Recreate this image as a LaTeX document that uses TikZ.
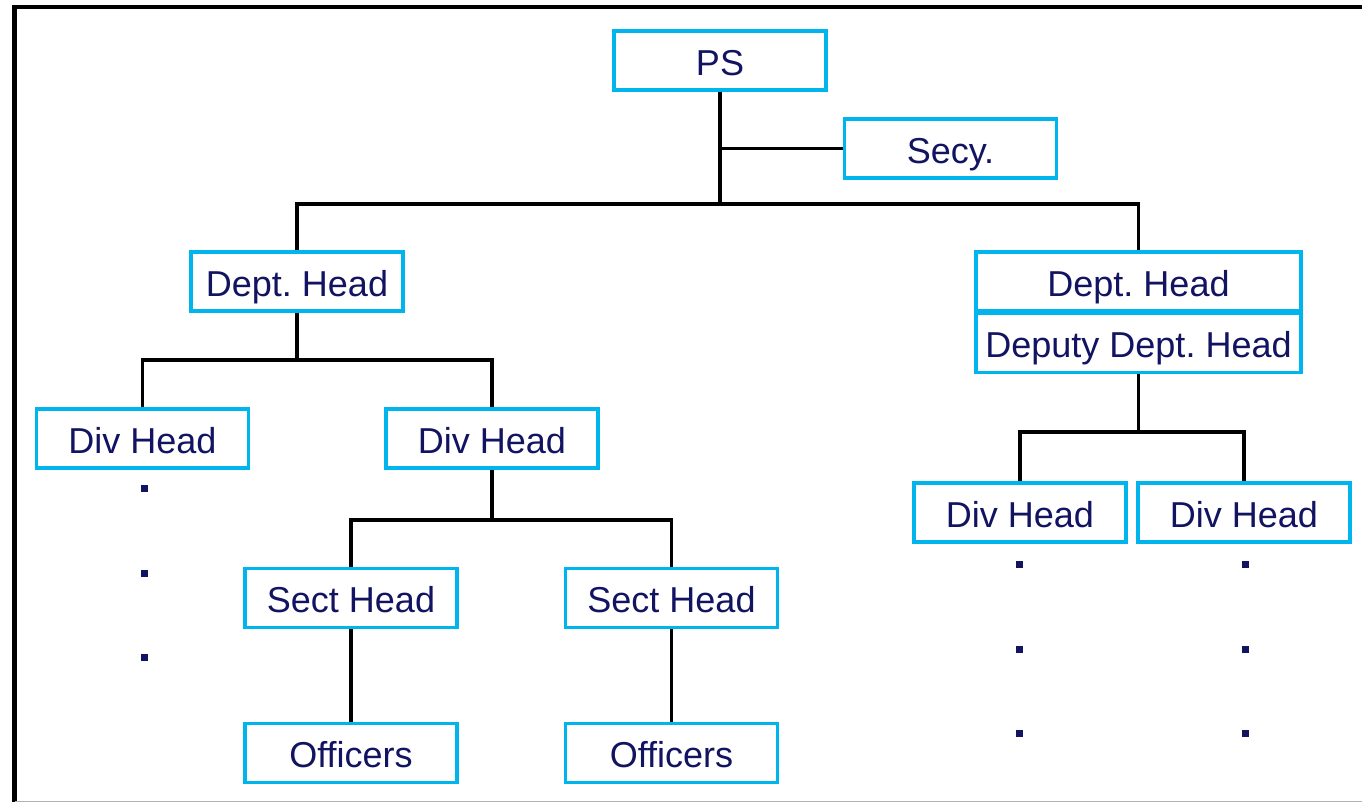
\documentclass[tikz,border=0pt]{standalone}
\usepackage{fontspec}
\setmainfont{Liberation Sans}
\frenchspacing
\definecolor{boxcyan}{RGB}{0,180,238}
\definecolor{navytext}{RGB}{18,20,98}
\tikzset{
  post/.style={draw=boxcyan, line width=1.9pt, fill=white, text=navytext,
    minimum width=4.24cm, minimum height=1.18cm, inner sep=1pt,
    text height=17pt, text depth=0pt,
    font=\fontsize{20.5}{24}\selectfont},
  link/.style={line width=2.1pt, black},
  dotmark/.style={fill=navytext}
}
\begin{document}
\begin{tikzpicture}[x=0.02cm, y=-0.02cm]
  \useasboundingbox (0,0) rectangle (1362,802);

  %moldura
  \draw[line width=2.3pt] (14.5,802) -- (14.5,7) -- (1362,7);
  \draw[line width=0.8pt, black!30] (14.5,801.5) -- (1362,801.5);

  %caixas
  \node[post] (ps) at (720,60.5) {PS};
  \node[post] (secy) at (950.5,148.5) {Secy.};
  \node[post] (dhl) at (297,281.5) {Dept. Head};
  \node[post, minimum width=6.5cm] (dhr) at (1138.5,281.5) {Dept. Head};
  \node[post, minimum width=6.5cm] (dep) at (1138.5,343) {Deputy Dept. Head};
  \node[post] (divl) at (142.5,438.5) {Div Head};
  \node[post] (divm) at (492,438.5) {Div Head};
  \node[post] (secta) at (351,598) {Sect Head};
  \node[post] (sectb) at (671.5,598) {Sect Head};
  \node[post] (offa) at (351,753) {Officers};
  \node[post] (offb) at (671.5,753) {Officers};
  \node[post] (divra) at (1020,512.5) {Div Head};
  \node[post] (divrb) at (1244,512.5) {Div Head};

  %barramentos
  \coordinate (topbus) at (720,204);
  \coordinate (leftbus) at (297,360);
  \coordinate (midbus) at (492,520);
  \coordinate (rightbus) at (1138.5,432);

  %ligacoes
  \draw[link] (ps.south) -- (topbus);
  \draw[link] (secy.west) -- (secy.west -| ps.south);
  \draw[link] (dhl.north) |- (topbus) -| (dhr.north);
  \draw[link] (dhl.south) -- (leftbus);
  \draw[link] (divl.north) |- (leftbus) -| (divm.north);
  \draw[link] (divm.south) -- (midbus);
  \draw[link] (secta.north) |- (midbus) -| (sectb.north);
  \draw[link] (secta.south) -- (offa.north);
  \draw[link] (sectb.south) -- (offb.north);
  \draw[link] (dep.south) -- (rightbus);
  \draw[link] (divra.north) |- (rightbus) -| (divrb.north);

  %pontos
  \foreach \y in {488,573,657}
    \fill[dotmark] (144-3.5,\y-3.5) rectangle ++(7,7);
  \foreach \y in {564,649,733} {
    \fill[dotmark] (1019-3.5,\y-3.5) rectangle ++(7,7);
    \fill[dotmark] (1245-3.5,\y-3.5) rectangle ++(7,7);
  }
\end{tikzpicture}
\end{document}
